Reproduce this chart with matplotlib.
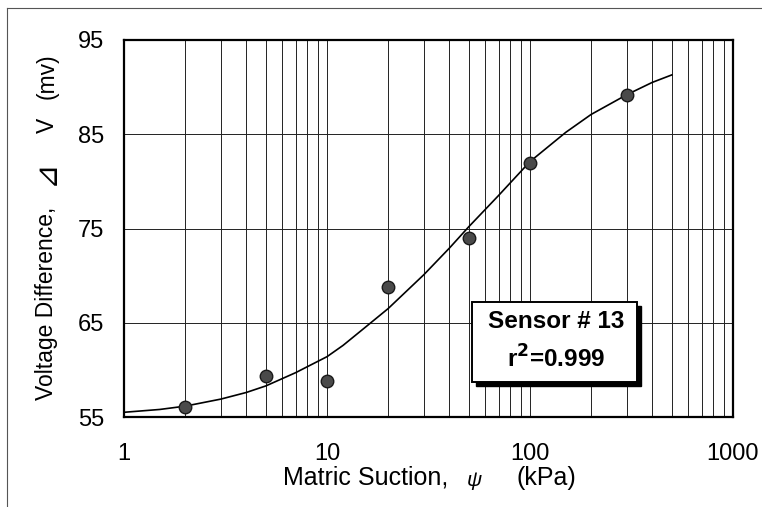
import matplotlib
matplotlib.use("Agg")
import matplotlib.pyplot as plt
from matplotlib.patches import Rectangle
from matplotlib.lines import Line2D
from matplotlib.ticker import FixedLocator, LogLocator, NullFormatter, FixedFormatter

plt.rcParams['font.family'] = ['Liberation Sans', 'DejaVu Sans']

# measured sensor readings
suction_kpa = [2, 5, 10, 20, 50, 100, 300]
voltage_mv = [56.1, 59.4, 58.8, 68.8, 74.0, 82.0, 89.2]

# calibration fit curve, sampled
fit_suction = [1, 1.5, 2, 3, 4, 5, 7, 10, 12, 15, 20, 30, 40, 50, 70, 100, 150, 200, 300, 400, 500]
fit_voltage = [55.5, 55.8, 56.15, 56.9, 57.6, 58.3, 59.7, 61.4, 62.6, 64.3, 66.5, 70.1, 72.9,
               75.2, 78.5, 82.1, 85.2, 87.1, 89.2, 90.5, 91.3]

x_ticks = [1, 10, 100, 1000]
x_tick_labels = ["1", "10", "100", "1000"]
y_ticks = [55, 65, 75, 85, 95]
y_tick_labels = ["55", "65", "75", "85", "95"]

W, H = 762, 507
fig = plt.figure(figsize=(W / 100, H / 100), dpi=100)
ax = fig.add_axes([124 / W, 1 - 417 / H, 609 / W, 377 / H])


def fx(px):
    return px / W


def fy(py):
    return 1 - py / H


ax.set_xscale('log')
ax.set_xlim(1, 1000)
ax.set_ylim(55, 95)

ax.xaxis.set_major_locator(FixedLocator(x_ticks))
ax.xaxis.set_major_formatter(FixedFormatter(x_tick_labels))
ax.xaxis.set_minor_locator(LogLocator(base=10, subs=range(2, 10)))
ax.xaxis.set_minor_formatter(NullFormatter())
ax.yaxis.set_major_locator(FixedLocator(y_ticks))
ax.yaxis.set_major_formatter(FixedFormatter(y_tick_labels))

ax.grid(True, which='both', axis='x', color='#222222', linewidth=0.7)
ax.grid(True, which='major', axis='y', color='#222222', linewidth=0.7)
ax.set_axisbelow(True)

ax.tick_params(which='both', length=0, labelsize=17)
ax.tick_params(axis='x', pad=19)
ax.tick_params(axis='y', pad=14)

for s in ax.spines.values():
    s.set_linewidth(1.6)
    s.set_color('black')

ax.plot(fit_suction, fit_voltage, color='black', linewidth=1.2, zorder=3)
ax.plot(suction_kpa, voltage_mv, linestyle='none', marker='o', markersize=9,
        markerfacecolor='#4a4a4a', markeredgecolor='#1a1a1a', markeredgewidth=1.0, zorder=4)

# x-axis title
fig.text(fx(366), fy(478), "Matric Suction,", fontsize=18, ha='center', va='center')
fig.text(fx(474), fy(481), "\u03c8", fontsize=15, style='italic', ha='center', va='center')
fig.text(fx(546), fy(478), "(kPa)", fontsize=18, ha='center', va='center')

# y-axis title
fig.text(fx(47), fy(400), "Voltage Difference,", fontsize=16.5, rotation=90,
         ha='center', va='bottom')
fig.text(fx(46), fy(172), "\u22bf", fontsize=22, rotation=90, ha='center', va='center')
fig.text(fx(47), fy(125), "V", fontsize=16.5, rotation=90, ha='center', va='center')
fig.text(fx(47), fy(76), "(mv)", fontsize=16.5, rotation=90, ha='center', va='center')

# annotation box with drop shadow
x0, x1 = (472 - 124) / 609, (637 - 124) / 609
y0, y1 = (417 - 382) / 377, (417 - 302) / 377
dx, dy = 4 / 609, 4 / 377
ax.add_patch(Rectangle((x0 + dx, y0 - dy), x1 - x0, y1 - y0, transform=ax.transAxes,
                       facecolor='black', edgecolor='black', zorder=5))
ax.add_patch(Rectangle((x0, y0), x1 - x0, y1 - y0, transform=ax.transAxes,
                       facecolor='white', edgecolor='black', linewidth=1.4, zorder=6))
ax.text(0.709, 0.253, "Sensor # 13", transform=ax.transAxes, ha='center', va='center',
        fontsize=17.5, fontweight='bold', zorder=7)
ax.text(0.709, 0.153, "r$^\\mathbf{2}$=0.999", transform=ax.transAxes, ha='center', va='center',
        fontsize=17.5, fontweight='bold', zorder=7)

# outer page frame
fig.add_artist(Line2D([fx(7), 1.0], [fy(8), fy(8)], color='#555555', linewidth=0.8))
fig.add_artist(Line2D([fx(7), fx(7)], [0.0, fy(8)], color='#555555', linewidth=0.8))

fig.savefig("out.png", dpi=100)
